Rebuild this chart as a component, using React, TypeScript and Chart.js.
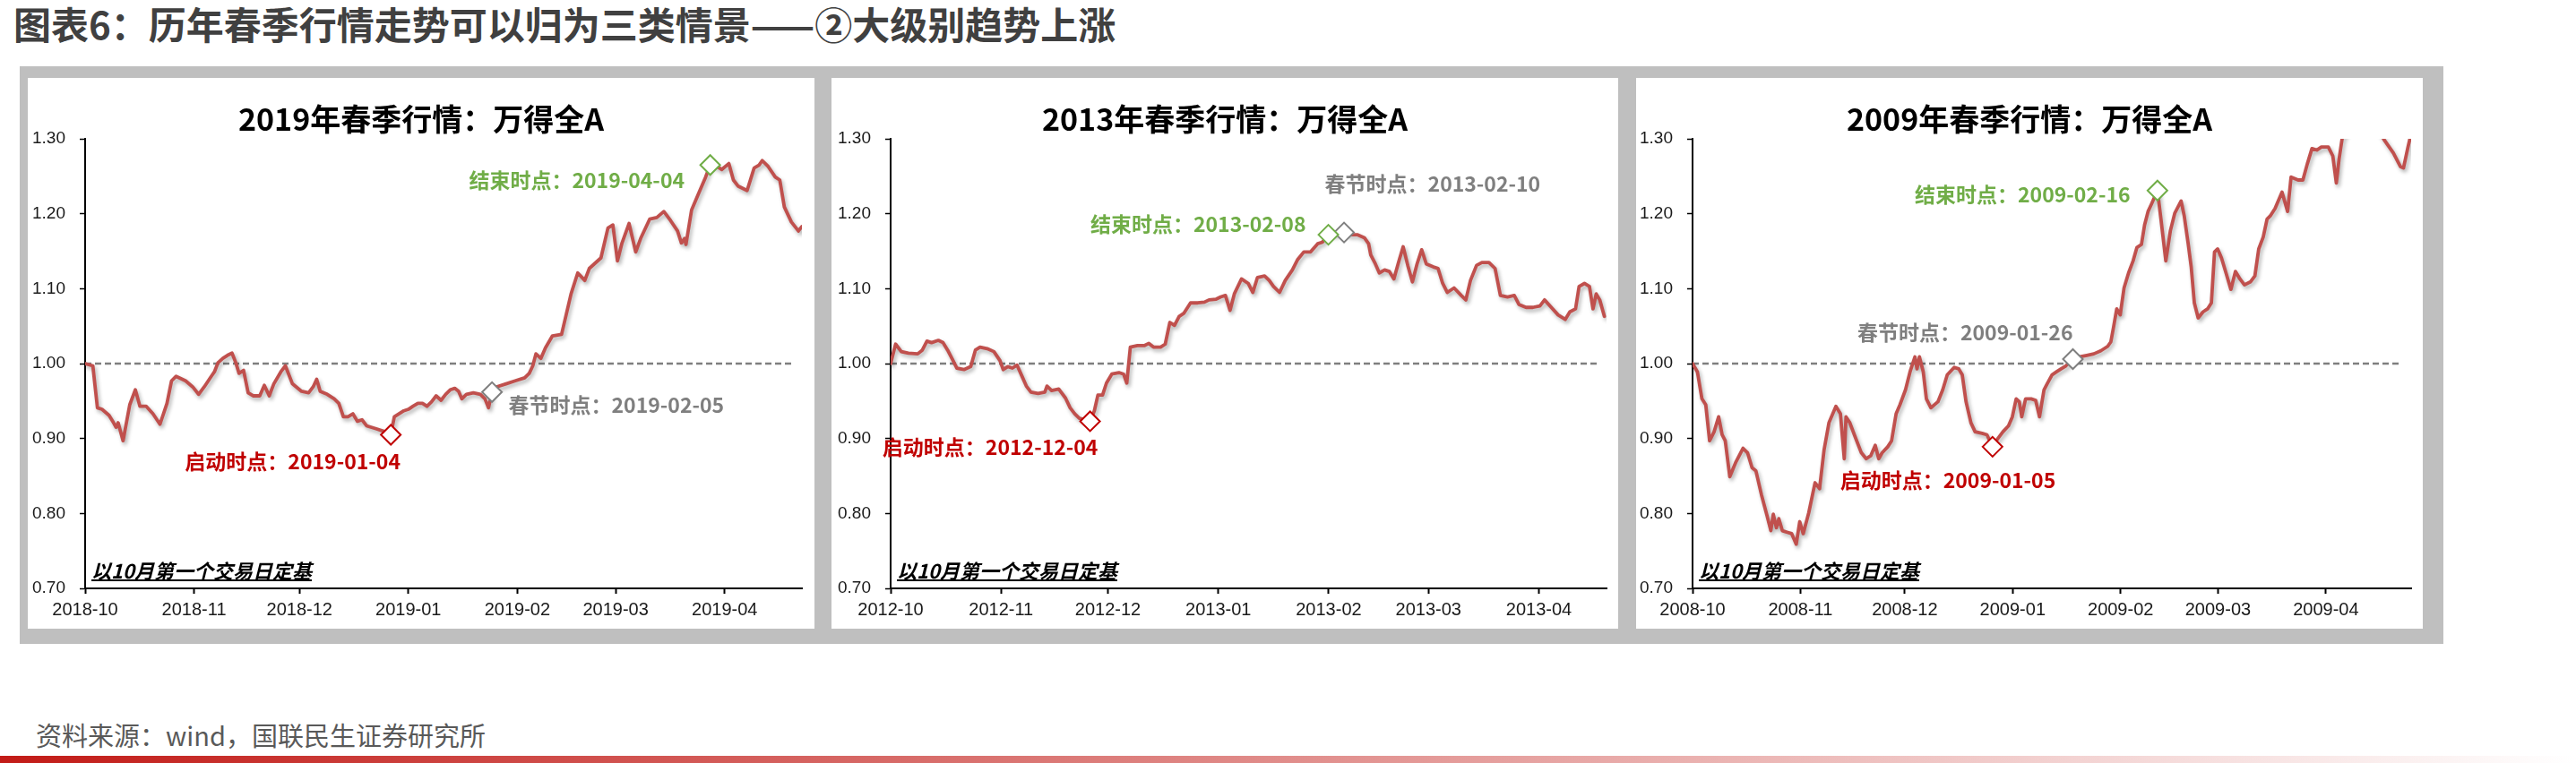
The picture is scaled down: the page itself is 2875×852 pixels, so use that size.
import React, { useEffect, useRef } from "react";
import { Chart, registerables } from "chart.js";

Chart.register(...registerables);

// ---------------- DATA ----------------
// x = calendar days counted from the first trading day of October (base = 1.00)
const tickDays = [0, 31, 61, 92, 123, 151, 182];
const yTickVals = [0.7, 0.8, 0.9, 1.0, 1.1, 1.2, 1.3];

const tickLabels2019 = ["2018-10", "2018-11", "2018-12", "2019-01", "2019-02", "2019-03", "2019-04"];
const tickLabels2013 = ["2012-10", "2012-11", "2012-12", "2013-01", "2013-02", "2013-03", "2013-04"];
const tickLabels2009 = ["2008-10", "2008-11", "2008-12", "2009-01", "2009-02", "2009-03", "2009-04"];

const days2019 = [0, 2.2, 3.5, 4.8, 6.8, 8.1, 8.8, 9.4, 10.8, 12.7, 14.3, 15.6, 17.4, 19.3, 21.3, 23.3, 24.6, 25.9, 28.6, 30.6, 32.3, 33.9, 35.9, 36.8, 37.8, 39.2, 40.5, 41.8, 42.9, 43.8, 45.1, 46.4, 47.8, 49.7, 51.0, 52.4, 53.7, 55.7, 57.0, 59.0, 61.6, 63.6, 64.9, 65.9, 66.9, 68.9, 70.9, 72.2, 73.5, 74.8, 76.2, 77.5, 78.8, 80.1, 82.8, 85.4, 87.0, 88.0, 90.7, 92.0, 93.3, 94.7, 96.0, 97.3, 98.6, 99.9, 101.3, 102.6, 103.9, 105.2, 106.3, 107.2, 108.5, 110.5, 112.5, 113.8, 114.8, 115.8, 117.1, 119.8, 122.4, 125.1, 126.4, 127.4, 128.3, 129.7, 131.0, 133.0, 135.6, 136.9, 138.3, 140.2, 142.2, 143.5, 144.9, 146.8, 148.8, 150.2, 151.5, 152.8, 154.8, 156.7, 158.1, 160.7, 162.7, 164.7, 166.6, 168.6, 169.7, 170.6, 171.0, 172.6, 174.6, 176.6, 177.9, 179.9, 181.2, 183.2, 184.5, 185.8, 188.4, 190.4, 191.8, 192.7, 194.4, 196.4, 197.7, 199.0, 201.0, 203.0, 204.0];
const vals2019 = [1.000, 0.997, 0.941, 0.939, 0.931, 0.921, 0.915, 0.921, 0.897, 0.945, 0.965, 0.943, 0.943, 0.933, 0.919, 0.947, 0.977, 0.983, 0.977, 0.969, 0.959, 0.969, 0.983, 0.989, 1.001, 1.007, 1.011, 1.014, 1.001, 0.987, 0.991, 0.961, 0.957, 0.957, 0.971, 0.957, 0.973, 0.989, 0.997, 0.973, 0.963, 0.961, 0.969, 0.979, 0.963, 0.959, 0.953, 0.947, 0.929, 0.929, 0.933, 0.923, 0.925, 0.917, 0.913, 0.909, 0.905, 0.929, 0.937, 0.939, 0.943, 0.947, 0.947, 0.943, 0.949, 0.957, 0.951, 0.959, 0.965, 0.967, 0.963, 0.953, 0.959, 0.961, 0.959, 0.953, 0.941, 0.962, 0.969, 0.973, 0.977, 0.981, 0.987, 0.997, 1.013, 1.007, 1.021, 1.037, 1.039, 1.065, 1.093, 1.121, 1.111, 1.127, 1.133, 1.141, 1.181, 1.185, 1.137, 1.161, 1.187, 1.149, 1.167, 1.193, 1.195, 1.203, 1.191, 1.177, 1.161, 1.167, 1.159, 1.205, 1.227, 1.249, 1.265, 1.263, 1.259, 1.267, 1.245, 1.237, 1.231, 1.261, 1.265, 1.271, 1.263, 1.249, 1.245, 1.209, 1.189, 1.177, 1.183];

const days2013 = [0, 1.4, 3.0, 5.0, 7.6, 8.9, 10.2, 11.5, 13.4, 14.7, 16.0, 17.3, 18.6, 20.6, 22.5, 23.8, 25.1, 27.1, 29.0, 30.7, 31.6, 32.9, 34.2, 35.5, 36.8, 38.1, 39.4, 41.4, 43.3, 43.9, 45.2, 47.2, 49.1, 50.4, 51.7, 53.0, 56.0, 57.2, 58.2, 59.5, 60.6, 62.1, 64.1, 65.4, 66.3, 67.3, 69.3, 71.2, 72.5, 73.8, 75.8, 77.1, 78.4, 79.7, 81.0, 82.3, 84.2, 86.2, 88.1, 89.4, 91.4, 92.7, 94.0, 95.3, 96.5, 98.5, 100.4, 101.7, 103.0, 105.0, 106.3, 107.5, 109.2, 110.8, 112.8, 114.3, 116.0, 117.9, 119.9, 121.2, 122.9, 127.3, 129.0, 131.0, 133.0, 134.2, 134.8, 136.1, 137.2, 138.7, 140.0, 141.3, 142.6, 143.9, 145.2, 146.5, 147.8, 149.1, 150.4, 152.4, 153.7, 155.0, 156.3, 158.2, 160.2, 161.5, 162.8, 164.5, 166.0, 168.0, 169.7, 171.2, 173.2, 175.1, 176.4, 178.4, 180.3, 182.3, 183.6, 185.5, 187.4, 189.4, 190.7, 192.3, 193.3, 194.8, 196.2, 197.2, 198.1, 199.1, 200.4];
const vals2013 = [1.000, 1.026, 1.016, 1.014, 1.013, 1.018, 1.030, 1.028, 1.031, 1.028, 1.018, 1.006, 0.994, 0.992, 0.996, 1.018, 1.022, 1.020, 1.016, 1.004, 0.992, 0.996, 0.994, 0.998, 0.984, 0.970, 0.962, 0.960, 0.962, 0.970, 0.964, 0.966, 0.954, 0.941, 0.933, 0.927, 0.923, 0.937, 0.958, 0.958, 0.974, 0.986, 0.988, 0.986, 0.974, 1.022, 1.024, 1.024, 1.027, 1.022, 1.022, 1.026, 1.055, 1.051, 1.063, 1.067, 1.081, 1.081, 1.082, 1.085, 1.086, 1.089, 1.091, 1.071, 1.093, 1.113, 1.107, 1.095, 1.115, 1.117, 1.111, 1.103, 1.095, 1.111, 1.125, 1.139, 1.149, 1.149, 1.160, 1.162, 1.172, 1.175, 1.172, 1.172, 1.168, 1.160, 1.145, 1.133, 1.121, 1.125, 1.123, 1.113, 1.135, 1.156, 1.131, 1.109, 1.133, 1.152, 1.133, 1.129, 1.127, 1.107, 1.095, 1.101, 1.091, 1.085, 1.111, 1.131, 1.135, 1.135, 1.127, 1.091, 1.089, 1.091, 1.079, 1.075, 1.075, 1.077, 1.085, 1.075, 1.065, 1.059, 1.069, 1.073, 1.103, 1.107, 1.103, 1.073, 1.093, 1.085, 1.063];

const days2009 = [0, 1.4, 2.7, 3.8, 4.9, 6.2, 7.5, 8.5, 9.4, 10.7, 12.5, 14.5, 15.8, 17.1, 18.2, 19.8, 21.4, 22.5, 23.2, 24.1, 24.8, 25.8, 27.1, 28.5, 29.8, 30.8, 31.8, 33.4, 35.2, 36.5, 37.8, 39.2, 41.2, 42.5, 43.6, 44.1, 45.2, 46.5, 48.5, 49.9, 51.2, 52.5, 53.5, 54.5, 56.1, 57.2, 58.5, 59.6, 61.2, 62.5, 63.9, 64.5, 65.2, 66.3, 67.2, 68.5, 70.5, 71.9, 73.2, 75.2, 76.5, 77.5, 78.6, 80.0, 81.2, 83.2, 84.6, 86.2, 87.9, 89.2, 90.8, 91.9, 93.0, 93.9, 94.6, 95.7, 97.3, 98.6, 99.7, 101.0, 101.9, 103.3, 104.6, 105.9, 107.3, 109.3, 111.3, 113.3, 115.3, 117.3, 119.3, 120.2, 121.0, 121.9, 122.9, 124.0, 125.3, 126.6, 127.7, 129.0, 129.9, 130.9, 131.9, 133.6, 134.6, 136.0, 137.3, 138.6, 140.4, 141.3, 142.4, 143.3, 144.2, 145.3, 146.7, 148.0, 149.1, 150.0, 150.9, 152.0, 153.3, 154.7, 156.0, 157.3, 158.6, 160.3, 161.6, 162.7, 164.0, 165.1, 166.0, 167.4, 169.4, 171.0, 172.0, 174.0, 175.4, 176.7, 178.0, 179.4, 180.7, 182.7, 184.0, 185.0, 185.8, 186.7, 189, 192, 195, 198.7, 201.4, 203.4, 204.3, 205.6, 206.4];
const vals2009 = [1.000, 0.989, 0.953, 0.945, 0.897, 0.909, 0.929, 0.905, 0.897, 0.849, 0.869, 0.887, 0.881, 0.861, 0.857, 0.825, 0.797, 0.777, 0.799, 0.781, 0.793, 0.777, 0.775, 0.773, 0.759, 0.789, 0.773, 0.801, 0.841, 0.833, 0.885, 0.921, 0.943, 0.933, 0.873, 0.929, 0.921, 0.905, 0.881, 0.873, 0.877, 0.891, 0.873, 0.881, 0.889, 0.897, 0.933, 0.945, 0.965, 0.989, 1.009, 0.993, 1.009, 0.989, 0.953, 0.941, 0.949, 0.965, 0.985, 0.995, 0.993, 0.985, 0.949, 0.921, 0.909, 0.907, 0.905, 0.889, 0.901, 0.909, 0.917, 0.929, 0.953, 0.949, 0.929, 0.953, 0.953, 0.951, 0.929, 0.965, 0.973, 0.985, 0.989, 0.993, 0.997, 1.006, 1.009, 1.011, 1.013, 1.017, 1.023, 1.029, 1.049, 1.073, 1.065, 1.101, 1.121, 1.137, 1.155, 1.159, 1.185, 1.203, 1.213, 1.231, 1.193, 1.137, 1.177, 1.201, 1.217, 1.197, 1.161, 1.129, 1.081, 1.061, 1.069, 1.073, 1.081, 1.149, 1.153, 1.141, 1.121, 1.099, 1.123, 1.113, 1.105, 1.109, 1.117, 1.153, 1.169, 1.193, 1.197, 1.207, 1.229, 1.203, 1.249, 1.245, 1.245, 1.267, 1.287, 1.285, 1.289, 1.289, 1.277, 1.241, 1.273, 1.301, 1.32, 1.34, 1.33, 1.299, 1.281, 1.263, 1.261, 1.289, 1.305];

// markers: [启动时点, 春节时点, 结束时点]
const markerDays2019 = [87.0, 115.8, 177.9];
const markerVals2019 = [0.905, 0.962, 1.265];
const markerDays2013 = [56.0, 127.3, 122.9];
const markerVals2013 = [0.923, 1.175, 1.172];
const markerDays2009 = [86.2, 109.3, 133.6];
const markerVals2009 = [0.889, 1.006, 1.231];

const markerNames = ["启动时点", "春节时点", "结束时点"];
const markerDates2019 = ["2019-01-04", "2019-02-05", "2019-04-04"];
const markerDates2013 = ["2012-12-04", "2013-02-10", "2013-02-08"];
const markerDates2009 = ["2009-01-05", "2009-01-26", "2009-02-16"];

// ---------------- STYLE ----------------
const FONT_CJK = '"Noto Sans CJK SC", "Noto Sans", sans-serif';
const FONT_NUM = '"Liberation Sans", Arial, sans-serif';
const LINE_RED = "#C0504D";
const MARK_COLORS = ["#C00000", "#7F7F7F", "#70AD47"];
const NOTE = "以10月第一个交易日定基";

type Ann = { day: number; value: number; align: CanvasTextAlign };

type PanelCfg = {
  left: number;
  title: string;
  tickLabels: string[];
  days: number[];
  vals: number[];
  mDays: number[];
  mVals: number[];
  mDates: string[];
  xMax: number;
  baseEnd: number;
  yAxisW: number;
  padRight: number;
  ann: Ann[];
};

const panels: PanelCfg[] = [
  {
    left: 31, title: "2019年春季行情：万得全A", tickLabels: tickLabels2019,
    days: days2019, vals: vals2019, mDays: markerDays2019, mVals: markerVals2019, mDates: markerDates2019,
    xMax: 204, baseEnd: 201.8, yAxisW: 64, padRight: 14,
    ann: [
      { day: 28.4, value: 0.87, align: "left" },
      { day: 120.5, value: 0.945, align: "left" },
      { day: 170.6, value: 1.245, align: "right" },
    ],
  },
  {
    left: 928, title: "2013年春季行情：万得全A", tickLabels: tickLabels2013,
    days: days2013, vals: vals2013, mDays: markerDays2013, mVals: markerVals2013, mDates: markerDates2013,
    xMax: 201, baseEnd: 199.2, yAxisW: 66, padRight: 11,
    ann: [
      { day: -2.3, value: 0.888, align: "left" },
      { day: 121.9, value: 1.24, align: "left" },
      { day: 116.6, value: 1.186, align: "right" },
    ],
  },
  {
    left: 1826, title: "2009年春季行情：万得全A", tickLabels: tickLabels2009,
    days: days2009, vals: vals2009, mDays: markerDays2009, mVals: markerVals2009, mDates: markerDates2009,
    xMax: 206.5, baseEnd: 203.9, yAxisW: 63, padRight: 13,
    ann: [
      { day: 42.4, value: 0.844, align: "left" },
      { day: 109.3, value: 1.041, align: "right" },
      { day: 125.8, value: 1.226, align: "right" },
    ],
  },
];

const PANEL_W = 878;
const PANEL_H = 615;

function makePlugin(cfg: PanelCfg) {
  return {
    id: "panelDecor",
    beforeDatasetDraw(chart: any, args: any) {
      if (args.index === 1) {
        const ctx = chart.ctx;
        ctx.save();
        ctx.shadowColor = "rgba(0,0,0,0.3)";
        ctx.shadowBlur = 4;
        ctx.shadowOffsetX = 2;
        ctx.shadowOffsetY = 3;
      }
    },
    afterDatasetDraw(chart: any, args: any) {
      if (args.index === 1) chart.ctx.restore();
    },
    afterDraw(chart: any) {
      const { ctx, chartArea, scales } = chart;
      ctx.save();
      ctx.textBaseline = "alphabetic";
      ctx.fillStyle = "#000";
      ctx.font = `bold 34px ${FONT_CJK}`;
      ctx.textAlign = "center";
      ctx.fillText(cfg.title, chart.width / 2, 46 + 0.38 * 34);
      ctx.font = `italic bold 22px ${FONT_CJK}`;
      ctx.textAlign = "left";
      const nx = chartArea.left + 7;
      ctx.fillText(NOTE, nx, chartArea.bottom - 19 + 0.38 * 22);
      const w = ctx.measureText(NOTE).width;
      ctx.fillRect(nx, chartArea.bottom - 10, w, 2);
      ctx.font = `bold 23px ${FONT_CJK}`;
      cfg.ann.forEach((a, i) => {
        ctx.fillStyle = MARK_COLORS[i];
        ctx.textAlign = a.align;
        const x = scales.x.getPixelForValue(a.day);
        const y = scales.y.getPixelForValue(a.value);
        ctx.fillText(`${markerNames[i]}：${cfg.mDates[i]}`, x, y + 0.38 * 23);
      });
      ctx.restore();
    },
  };
}

function Panel({ cfg }: { cfg: PanelCfg }) {
  const ref = useRef<HTMLCanvasElement | null>(null);
  useEffect(() => {
    if (!ref.current) return;
    const n = Math.min(cfg.days.length, cfg.vals.length);
    const lineData: { x: number; y: number }[] = [];
    for (let i = 0; i < n; i++) lineData.push({ x: cfg.days[i], y: cfg.vals[i] });
    const markData = cfg.mDays.map((d, i) => ({ x: d, y: cfg.mVals[i] }));
    const chart = new Chart(ref.current, {
      type: "line",
      data: {
        datasets: [
          {
            data: markData,
            showLine: false,
            pointStyle: "rectRot",
            pointRadius: 11,
            pointBorderWidth: 2,
            pointBackgroundColor: "#ffffff",
            pointBorderColor: MARK_COLORS,
            order: 0,
          } as any,
          {
            data: lineData,
            borderColor: LINE_RED,
            borderWidth: 3.8,
            borderJoinStyle: "round",
            borderCapStyle: "round",
            pointRadius: 0,
            tension: 0,
            order: 1,
          },
          {
            data: [{ x: 0, y: 1 }, { x: cfg.baseEnd, y: 1 }],
            borderColor: "#7F7F7F",
            borderWidth: 2.6,
            borderDash: [7, 4],
            pointRadius: 0,
            order: 2,
          },
        ],
      },
      options: {
        responsive: false,
        animation: false,
        devicePixelRatio: 1,
        events: [],
        layout: { padding: { top: 68, right: cfg.padRight, left: 0, bottom: 0 } },
        plugins: {
          legend: { display: false },
          tooltip: { enabled: false },
          title: { display: false },
        },
        scales: {
          x: {
            type: "linear",
            min: 0,
            max: cfg.xMax,
            afterBuildTicks: (s: any) => {
              s.ticks = tickDays.map((v) => ({ value: v }));
            },
            afterFit: (s: any) => {
              s.height = 45;
            },
            ticks: {
              autoSkip: false,
              maxRotation: 0,
              padding: 6,
              color: "#1a1a1a",
              font: { family: FONT_NUM, size: 20 },
              callback: (v: any) => {
                const i = tickDays.findIndex((t) => Math.abs(t - Number(v)) < 0.01);
                return i >= 0 ? cfg.tickLabels[i] : "";
              },
            },
            grid: {
              drawOnChartArea: false,
              drawTicks: true,
              tickLength: 6,
              tickColor: "#000",
              tickWidth: 2,
            },
            border: { display: true, color: "#000", width: 2 },
          },
          y: {
            type: "linear",
            min: 0.7,
            max: 1.3,
            afterBuildTicks: (s: any) => {
              s.ticks = yTickVals.map((v) => ({ value: v }));
            },
            afterFit: (s: any) => {
              s.width = cfg.yAxisW;
            },
            ticks: {
              padding: 16,
              color: "#1a1a1a",
              font: { family: FONT_NUM, size: 19 },
              callback: (v: any) => Number(v).toFixed(2),
            },
            grid: {
              drawOnChartArea: false,
              drawTicks: true,
              tickLength: 6,
              tickColor: "#000",
              tickWidth: 1.5,
            },
            border: { display: true, color: "#000", width: 2 },
          },
        },
      } as any,
      plugins: [makePlugin(cfg)],
    });
    return () => chart.destroy();
  }, [cfg]);
  return (
    <div
      style={{
        position: "absolute",
        left: cfg.left,
        top: 87,
        width: PANEL_W,
        height: PANEL_H,
        background: "#ffffff",
      }}
    >
      <canvas ref={ref} width={PANEL_W} height={PANEL_H} style={{ display: "block" }} />
    </div>
  );
}

export default function App() {
  return (
    <div
      style={{
        position: "absolute",
        left: 0,
        top: 0,
        width: 2875,
        height: 852,
        background: "#ffffff",
        overflow: "hidden",
        fontFamily: FONT_CJK,
      }}
    >
      <div
        style={{
          position: "absolute",
          left: 15,
          top: 5,
          fontSize: 42,
          lineHeight: "42px",
          fontWeight: 700,
          color: "#404040",
          whiteSpace: "nowrap",
        }}
      >
        图表6：历年春季行情走势可以归为三类情景——②大级别趋势上涨
      </div>
      <div
        style={{
          position: "absolute",
          left: 22,
          top: 74,
          width: 2705,
          height: 645,
          background: "#BFBFBF",
        }}
      />
      {panels.map((p, i) => (
        <Panel key={i} cfg={p} />
      ))}
      <div
        style={{
          position: "absolute",
          left: 40,
          top: 803,
          fontSize: 29,
          lineHeight: "34px",
          color: "#595959",
          whiteSpace: "nowrap",
        }}
      >
        资料来源：wind，国联民生证券研究所
      </div>
      <div
        style={{
          position: "absolute",
          left: 0,
          top: 844,
          width: 2875,
          height: 8,
          background: "linear-gradient(to right, #C21B17, #FFFFFF)",
        }}
      />
    </div>
  );
}
